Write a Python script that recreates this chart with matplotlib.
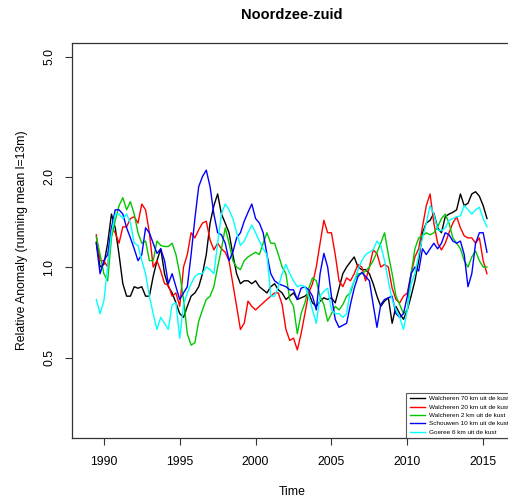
import numpy as np
import matplotlib
matplotlib.use('Agg')
import matplotlib.pyplot as plt

plt.rcParams['font.family'] = ['Liberation Sans', 'DejaVu Sans']

# data set: quarterly running-mean anomalies, 1989.5 .. 2015.25
start_year = 1989.5
step = 0.25

walcheren70 = [1.21, 1.0, 1.02, 1.2, 1.5, 1.35, 1.1, 0.88, 0.8, 0.8,
               0.86, 0.85, 0.86, 0.8, 0.8, 0.93, 1.05, 1.15, 0.95, 0.86,
               0.82, 0.76, 0.7, 0.68, 0.74, 0.8, 0.82, 0.86, 0.95, 1.1,
               1.4, 1.6, 1.75, 1.5, 1.4, 1.3, 1.1, 0.95, 0.88, 0.9,
               0.9, 0.88, 0.9, 0.86, 0.84, 0.82, 0.86, 0.88, 0.84, 0.82,
               0.78, 0.8, 0.82, 0.78, 0.79, 0.8, 0.82, 0.76, 0.74, 0.77,
               0.79, 0.78, 0.79, 0.76, 0.85, 0.95, 1.0, 1.04, 1.08, 1.0,
               0.98, 0.98, 0.95, 0.88, 0.8, 0.74, 0.77, 0.79, 0.65, 0.74,
               0.7, 0.67, 0.72, 0.8, 0.9, 1.05, 1.3, 1.4, 1.43, 1.51,
               1.35, 1.3, 1.47, 1.5, 1.52, 1.55, 1.75, 1.6, 1.63, 1.75,
               1.78, 1.72, 1.6, 1.45]
walcheren20 = [1.28, 1.05, 1.05, 1.0, 1.35, 1.3, 1.2, 1.36, 1.36, 1.45,
               1.47, 1.4, 1.62, 1.55, 1.3, 1.0, 1.05, 0.97, 0.88, 0.87,
               0.8, 0.82, 0.74, 1.0, 1.1, 1.3, 1.25, 1.33, 1.4, 1.42,
               1.23, 1.14, 1.2, 1.15, 1.12, 1.05, 0.88, 0.74, 0.62, 0.65,
               0.77, 0.74, 0.72, 0.74, 0.76, 0.78, 0.8, 0.82, 0.82, 0.75,
               0.62, 0.57, 0.58, 0.53, 0.6, 0.7, 0.82, 0.88, 1.0, 1.2,
               1.43, 1.3, 1.3, 1.1, 0.9, 0.86, 0.92, 0.9, 0.95, 1.02,
               1.0, 0.9, 1.0, 1.14, 1.11, 1.0, 1.02, 1.0, 0.85, 0.78,
               0.76, 0.8, 0.82, 0.95, 1.08, 1.15, 1.36, 1.6, 1.75, 1.4,
               1.2, 1.14, 1.2, 1.3, 1.4, 1.47, 1.35, 1.27, 1.25, 1.25,
               1.2, 1.25, 1.05, 0.95]
walcheren2 = [1.26, 1.1, 0.95, 0.9, 1.25, 1.43, 1.6, 1.7, 1.55, 1.65,
              1.5, 1.3, 1.2, 1.22, 1.05, 1.05, 1.22, 1.18, 1.17, 1.17,
              1.2, 1.1, 0.95, 0.78, 0.6, 0.55, 0.56, 0.66, 0.72, 0.78,
              0.8, 0.86, 1.0, 1.15, 1.35, 1.2, 1.05, 1.0, 0.98, 1.05,
              1.08, 1.1, 1.12, 1.1, 1.2, 1.3, 1.2, 1.2, 1.1, 1.0,
              0.95, 0.78, 0.74, 0.6, 0.7, 0.76, 0.85, 0.92, 0.9, 0.8,
              0.75, 0.66, 0.7, 0.74, 0.72, 0.75, 0.8, 0.82, 0.9, 0.95,
              0.95, 0.97, 1.0, 1.05, 1.12, 1.2, 1.3, 1.1, 0.95, 0.8,
              0.75, 0.7, 0.72, 0.95, 1.15, 1.25, 1.27, 1.3, 1.28, 1.3,
              1.36, 1.45, 1.5, 1.4, 1.25, 1.2, 1.15, 1.05, 1.0, 1.08,
              1.13, 1.05, 1.0, 1.0]
schouwen10 = [1.2, 0.95, 1.05, 1.1, 1.35, 1.55, 1.55, 1.5, 1.35, 1.25,
              1.15, 1.05, 1.1, 1.35, 1.3, 1.2, 1.11, 1.15, 1.05, 0.88,
              0.95, 0.86, 0.78, 0.82, 0.86, 1.1, 1.45, 1.85, 2.0, 2.1,
              1.85, 1.5, 1.3, 1.28, 1.2, 1.05, 1.12, 1.25, 1.3, 1.42,
              1.52, 1.62, 1.45, 1.4, 1.3, 1.1, 0.95, 0.9, 0.88, 0.87,
              0.86, 0.84, 0.84, 0.78, 0.85, 0.86, 0.84, 0.8, 0.72, 0.95,
              1.11, 1.0, 0.8, 0.67, 0.63, 0.64, 0.65, 0.75, 0.85, 0.93,
              0.96, 0.93, 0.9, 0.75, 0.63, 0.75, 0.78, 0.79, 0.8, 0.7,
              0.68, 0.7, 0.8, 0.95, 1.0, 0.97, 1.15, 1.1, 1.15, 1.2,
              1.15, 1.2, 1.3, 1.28, 1.22, 1.2, 1.22, 1.1, 0.86, 0.95,
              1.2, 1.3, 1.3, 1.12]
goeree6 = [0.78, 0.7, 0.77, 1.0, 1.3, 1.5, 1.5, 1.45, 1.5, 1.4,
           1.2, 1.18, 1.05, 0.95, 0.8, 0.7, 0.62, 0.68, 0.65, 0.62,
           0.75, 0.76, 0.58, 0.75, 0.82, 0.88, 0.93, 0.95, 0.95, 1.0,
           0.98, 0.95, 1.2, 1.5, 1.62, 1.55, 1.45, 1.3, 1.18, 1.22,
           1.3, 1.38, 1.3, 1.22, 1.15, 1.1, 0.8, 0.8, 0.86, 0.95,
           1.02, 0.95, 0.9, 0.86, 0.87, 0.86, 0.8, 0.72, 0.65, 0.8,
           0.83, 0.85, 0.72, 0.7, 0.7, 0.68, 0.7, 0.84, 0.9, 0.98,
           1.05, 1.1, 1.12, 1.14, 1.22, 1.18, 1.05, 0.9, 0.78, 0.72,
           0.68, 0.62, 0.72, 0.88, 0.95, 1.1, 1.25, 1.4, 1.6, 1.5,
           1.33, 1.32, 1.35, 1.43, 1.45, 1.47, 1.48, 1.6, 1.55, 1.5,
           1.55, 1.58, 1.45, 1.36]

labels = ['Walcheren 70 km uit de kust', 'Walcheren 20 km uit de kust',
          'Walcheren 2 km uit de kust', 'Schouwen 10 km uit de kust',
          'Goeree 6 km uit de kust']
colors = ['black', 'red', '#00c800', 'blue', 'cyan']
yticks = [0.5, 1.0, 2.0, 5.0]
xticks = [1990, 1995, 2000, 2005, 2010, 2015]

series = [walcheren70, walcheren20, walcheren2, schouwen10, goeree6]
time = start_year + step * np.arange(len(walcheren70))

fig = plt.figure(figsize=(5.08, 5.04), dpi=100)
# plot region runs a little past the right edge, as in the original
ax = fig.add_axes([72 / 508, 66 / 504, 440 / 508, 395 / 504])

for vals, col, lab in zip(series, colors, labels):
    ax.plot(time, vals, color=col, lw=1.0, label=lab)

ax.set_yscale('log')
ax.set_ylim(0.27, 5.56)
ax.set_xlim(1987.9, 2016.9)
ax.set_yticks(yticks)
ax.set_yticklabels(['%.1f' % v for v in yticks], rotation=90, va='center')
ax.yaxis.set_minor_locator(matplotlib.ticker.NullLocator())
ax.set_xticks(xticks)

for s in ax.spines.values():
    s.set_color('#333333')
    s.set_linewidth(0.9)
ax.tick_params(direction='out', length=5, width=0.8, color='#333333',
               labelsize=8.8, pad=7)
ax.tick_params(axis='x', pad=8)

ax.set_title('Noordzee-zuid', fontsize=10.5, fontweight='bold', pad=17.5)
ax.set_xlabel('Time', fontsize=8.8, labelpad=13)
ax.set_ylabel('Relative Anomaly (running mean l=13m)', fontsize=8.8, labelpad=11)

leg = ax.legend(loc='lower right', fontsize=4.6, frameon=True, fancybox=False,
                borderaxespad=0, handlelength=2.4, handletextpad=0.6,
                labelspacing=0.45, borderpad=0.5)
leg.get_frame().set_edgecolor('#333333')
leg.get_frame().set_linewidth(0.8)

plt.savefig('out.png', dpi=100)
